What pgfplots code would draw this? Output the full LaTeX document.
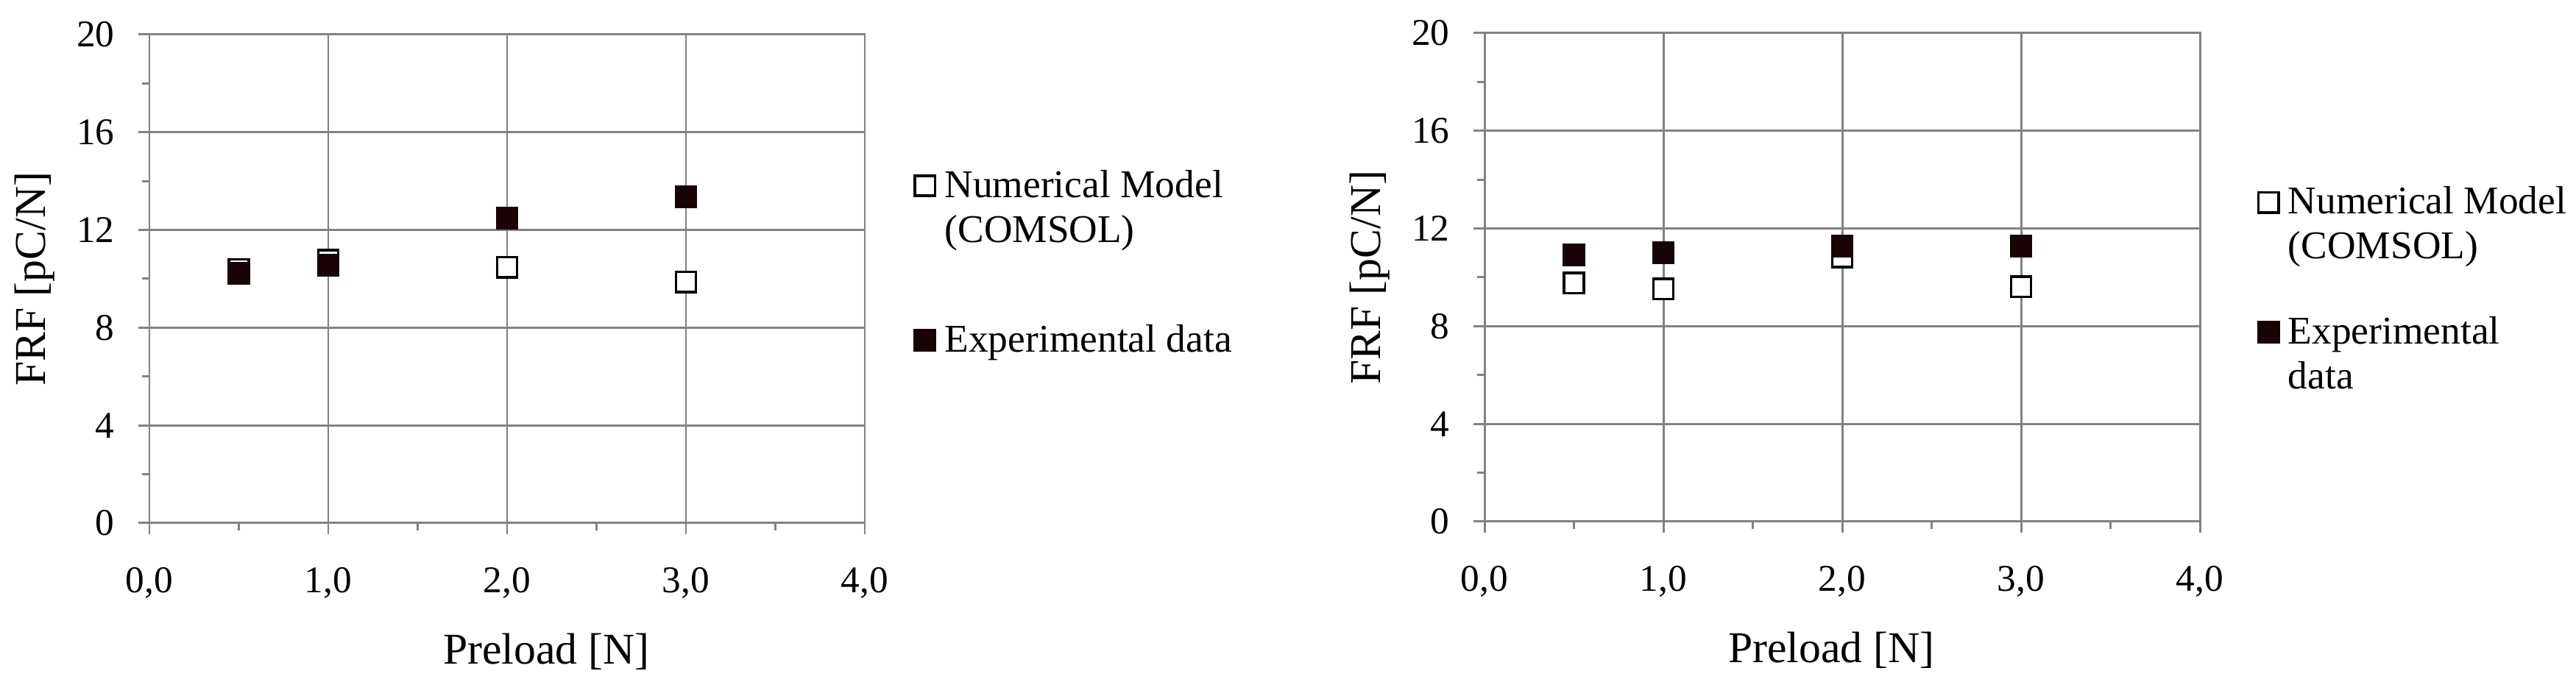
\documentclass[border=0pt]{standalone}
\usepackage{pgfplots}
\pgfplotsset{compat=1.18}
\usepackage{fontspec}
\setmainfont{Liberation Serif}
\definecolor{gridgray}{RGB}{130,130,130}
\definecolor{expfill}{RGB}{24,4,4}
\pgfplotsset{
 frfstyle/.style={
  scale only axis, width=9.72cm, height=6.64cm,
  xmin=0,xmax=4,ymin=0,ymax=20,
  xtick={0,1,2,3,4}, xticklabels={{0,0},{1,0},{2,0},{3,0},{4,0}},
  ytick={0,4,8,12,16,20}, yticklabels={0,4,8,12,16,20},
  minor x tick num=1, minor y tick num=1,
  tick align=outside, xtick pos=left, ytick pos=left,
  major tick length=0.15cm, minor tick length=0.1cm,
  grid=major, major grid style={gridgray, line width=0.85pt},
  axis line style={gridgray, line width=0.85pt},
  tick style={gridgray, line width=0.85pt},
  ticklabel style={font=\fontsize{14.6}{17}\selectfont},
  xticklabel style={yshift=-0.33cm},
  yticklabel style={xshift=-0.2cm},
  label style={font=\fontsize{17}{20}\selectfont},
  ylabel={FRF [pC/N]}, xlabel={Preload [N]},
  ylabel style={at={(axis description cs:-0.16,0.5)}, anchor=center},
  legend cell align=left,
  legend style={draw=none, fill=none, inner sep=0pt, font=\fontsize{15.2}{17.3}\selectfont, cells={inner sep=0.02cm}, column sep=0.06cm, anchor=north west},
  legend image code/.code={\draw[##1] plot coordinates {(0.14cm,0cm)};},
 },
 numstyle/.style={only marks, mark=square*, mark size=3.9pt, mark options={draw=black, fill=white, line width=1pt}},
 expstyle/.style={only marks, mark=square*, mark size=3.9pt, mark options={draw=expfill, fill=expfill, line width=1pt}},
}
\begin{document}
\begin{tikzpicture}
\path[use as bounding box] (0,0) rectangle (35cm,9.27cm);
% Left chart
\begin{axis}[frfstyle, at={(2.03cm,2.16cm)}, anchor=south west,
  xlabel style={at={(axis description cs:0.555,0)}, anchor=base, yshift=-1.92cm},
  legend style={at={(axis description cs:1.0694,0.734)}, row sep=1.54cm}]
\addplot[numstyle] coordinates {(0.5,10.38) (1,10.76) (2,10.47) (3,9.87)};
\addlegendentry{\raisebox{0pt}[\height][0pt]{\vtop{\hbox{Numerical Model}\hbox{(COMSOL)}}}}
\addplot[expstyle] coordinates {(0.5,10.23) (1,10.56) (2,12.49) (3,13.35)};
\addlegendentry{\raisebox{0pt}[\height][0pt]{Experimental data}}
\end{axis}
% Right chart
\begin{axis}[frfstyle, at={(20.17cm,2.18cm)}, anchor=south west,
  xlabel style={at={(axis description cs:0.485,0)}, anchor=base, yshift=-1.92cm},
  legend style={at={(axis description cs:1.081,0.697)}, row sep=1.2cm}]
\addplot[numstyle] coordinates {(0.5,9.77) (1,9.52) (2,10.83) (3,9.61)};
\addlegendentry{\raisebox{0pt}[\height][0pt]{\vtop{\hbox{Numerical Model}\hbox{(COMSOL)}}}}
\addplot[expstyle] coordinates {(0.5,10.92) (1,11.02) (2,11.29) (3,11.27)};
\addlegendentry{\raisebox{0pt}[\height][0pt]{\vtop{\hbox{Experimental}\hbox{data}}}}
\end{axis}
\end{tikzpicture}
\end{document}
